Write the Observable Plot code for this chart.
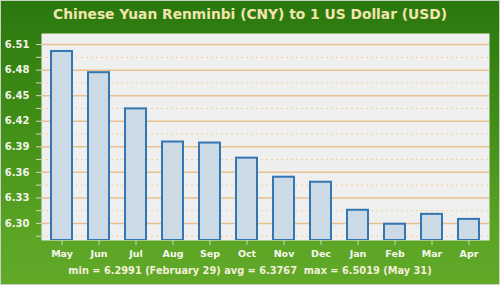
<!DOCTYPE html>
<html><head><meta charset="utf-8">
<script src="https://cdn.jsdelivr.net/npm/d3@7"></script>
<script src="https://cdn.jsdelivr.net/npm/@observablehq/plot@0.6"></script>
<style>
body{margin:0;}
#wrap{position:relative;width:500px;height:285px;overflow:hidden;
 background:linear-gradient(#2a780e 0%,#3f8c16 40%,#5aa424 80%,#62a928 100%);
 font-family:"DejaVu Sans",Verdana,sans-serif;}
#wrap:after{content:"";position:absolute;left:0;top:0;right:0;bottom:0;box-shadow:inset 0 0 0 1px #c9d2c2;pointer-events:none;}
#title{height:28px;line-height:28px;text-align:center;color:#f1e5ad;font-weight:bold;font-size:13.8px;}
#chart svg{display:block;}
#foot{position:absolute;left:0;width:500px;top:265px;text-align:center;color:#f3efd9;font-weight:bold;font-size:9.8px;white-space:pre;}
</style></head>
<body>
<div id="wrap"><div id="title">Chinese Yuan Renminbi (CNY) to 1 US Dollar (USD)</div><div id="chart"></div>
<div id="foot">min = 6.2991 (February 29) avg = 6.3767  max = 6.5019 (May 31)</div></div>
<script>
const months = ["May","Jun","Jul","Aug","Sep","Oct","Nov","Dec","Jan","Feb","Mar","Apr"];
const rates = [6.5019,6.4770,6.4345,6.3956,6.3944,6.3767,6.3543,6.3484,6.3155,6.2991,6.3107,6.3048];
const yTicks = [6.30,6.33,6.36,6.39,6.42,6.45,6.48,6.51];
const yMinor = [6.285,6.315,6.345,6.375,6.405,6.435,6.465,6.495];
const yDomain = [6.28,6.523];

const data = months.map((m,i)=>({month:m, rate:rates[i]}));

const chart = Plot.plot({
  width:500, height:237,
  marginLeft:41, marginRight:11, marginTop:5, marginBottom:25,
  style:{background:"transparent", fontFamily:"'DejaVu Sans',Verdana,sans-serif"},
  x:{domain:months, padding:0, label:null},
  y:{domain:yDomain, label:null},
  marks:[
    Plot.frame({fill:"#efefef", stroke:null}),
    Plot.ruleY(yMinor,{stroke:"#f0d09a", strokeWidth:1, strokeDasharray:"2,3"}),
    Plot.ruleY(yTicks,{stroke:"#e6c18f", strokeWidth:1.5}),
    Plot.barY(data,{x:"month", y1:yDomain[0], y2:"rate", fill:"#cbdae5", stroke:"#3276b2", strokeWidth:2, insetLeft:8, insetRight:8, clip:true}),
    Plot.axisY(yMinor,{tickSize:5, stroke:"#cfd8c6", text:null, label:null}),
    Plot.axisY(yTicks,{tickSize:5, tickPadding:7, stroke:"#cfd8c6", tickFormat:d=>d.toFixed(2), fill:"#f4f4ec", fontWeight:"bold", fontSize:10, label:null}),
    Plot.axisX({tickSize:5, tickPadding:5, stroke:"#cfd8c6", fill:"#f8f8f0", fontWeight:"bold", fontSize:9.5, label:null})
  ]
});
document.getElementById("chart").appendChild(chart);
</script>
</body></html>
